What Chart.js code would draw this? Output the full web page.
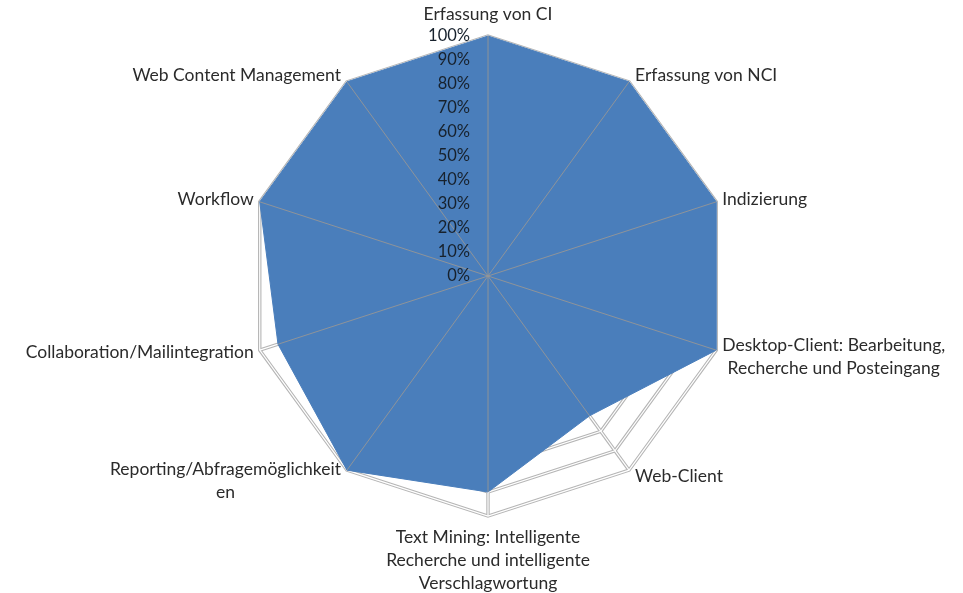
<!DOCTYPE html>
<html>
<head>
<meta charset="utf-8">
<script src="https://cdn.jsdelivr.net/npm/chart.js@4"></script>
<style>
  html, body { margin: 0; padding: 0; background: #fff; }
  #wrap { width: 963px; height: 593px; }
</style>
</head>
<body>
<div id="wrap"><canvas id="myChart" width="963" height="593"></canvas></div>
<script>
// Kategorien (Achsen), im Uhrzeigersinn ab oben
const categories = [
  'Erfassung von CI',
  'Erfassung von NCI',
  'Indizierung',
  ['Desktop-Client: Bearbeitung,', 'Recherche und Posteingang'],
  'Web-Client',
  ['Text Mining: Intelligente', 'Recherche und intelligente', 'Verschlagwortung'],
  ['Reporting/Abfragemöglichkeit', 'en'],
  'Collaboration/Mailintegration',
  'Workflow',
  'Web Content Management'
];
// Erfüllungsgrad in Prozent
const values = [100, 100, 100, 100, 72, 90, 100, 92, 100, 100];
const tickLabels = ['0%', '10%', '20%', '30%', '40%', '50%', '60%', '70%', '80%', '90%', '100%'];

const FONT = '"Lato", "Open Sans", sans-serif';
const TEXT = '#2b2b2b';

const overlay = {
  id: 'overlay',
  beforeDatasetsDraw(chart) {
    const r = chart.scales.r, ctx = chart.ctx;
    ctx.save();
    ctx.strokeStyle = '#ffffff';
    ctx.lineWidth = 1.2;
    // weisser Kern der doppelten Gitterlinien
    r.ticks.forEach(t => {
      if (t.value === 0) return;
      ctx.beginPath();
      for (let i = 0; i < categories.length; i++) {
        const p = r.getPointPositionForValue(i, t.value);
        if (i) ctx.lineTo(p.x, p.y); else ctx.moveTo(p.x, p.y);
      }
      ctx.closePath();
      ctx.stroke();
    });
    for (let i = 0; i < categories.length; i++) {
      const p = r.getPointPositionForValue(i, r.max);
      ctx.beginPath();
      ctx.moveTo(r.xCenter, r.yCenter);
      ctx.lineTo(p.x, p.y);
      ctx.stroke();
    }
    ctx.restore();
  },
  afterDatasetsDraw(chart) {
    const r = chart.scales.r, ctx = chart.ctx;
    const n = categories.length;
    ctx.save();
    // Speichen ueber der Flaeche
    ctx.strokeStyle = 'rgba(150,150,150,0.9)';
    ctx.lineWidth = 1;
    for (let i = 0; i < n; i++) {
      const p = r.getPointPositionForValue(i, values[i]);
      ctx.beginPath();
      ctx.moveTo(r.xCenter, r.yCenter);
      ctx.lineTo(p.x, p.y);
      ctx.stroke();
    }
    // Achsenbeschriftung links der oberen Speiche
    ctx.font = '16.5px ' + FONT;
    ctx.fillStyle = '#17212c';
    ctx.textAlign = 'right';
    ctx.textBaseline = 'middle';
    r.ticks.forEach((t, k) => {
      const d = r.getDistanceFromCenterForValue(t.value);
      ctx.fillText(tickLabels[k], r.xCenter - 18, r.yCenter - d);
    });
    // Kategorienbeschriftung
    ctx.font = '17.5px ' + FONT;
    ctx.fillStyle = TEXT;
    ctx.textAlign = 'center';
    const lh = 23;
    for (let i = 0; i < n; i++) {
      const lines = Array.isArray(categories[i]) ? categories[i] : [categories[i]];
      const w = Math.max(...lines.map(s => ctx.measureText(s).width));
      const a = r.getIndexAngle(i);
      const p = r.getPointPositionForValue(i, r.max);
      const deg = Math.round(a * 180 / Math.PI) % 360;
      let cx, cy;
      const hBlock = lines.length * lh;
      if (deg === 0) {
        cx = p.x; cy = p.y - 10 - hBlock / 2;
      } else if (deg === 180) {
        cx = p.x; cy = p.y + 10 + hBlock / 2;
      } else {
        cx = deg < 180 ? p.x + 6 + w / 2 : p.x - 6 - w / 2;
        cy = p.y - 8 * Math.cos(a) + (lines.length > 1 ? 4 : 0);
      }
      lines.forEach((s, j) => {
        ctx.fillText(s, cx, cy - hBlock / 2 + lh * (j + 0.5));
      });
    }
    ctx.restore();
  }
};

const ctx = document.getElementById('myChart').getContext('2d');
const myChart = new Chart(ctx, {
  type: 'radar',
  data: {
    labels: categories,
    datasets: [{
      data: values,
      backgroundColor: '#4a7ebb',
      borderColor: '#4a7ebb',
      borderWidth: 1,
      pointRadius: 0,
      fill: true
    }]
  },
  options: {
    responsive: false,
    animation: false,
    layout: { padding: { top: 36, bottom: 77, left: 13, right: 0 } },
    plugins: { legend: { display: false }, tooltip: { enabled: false } },
    scales: {
      r: {
        min: 0,
        max: 100,
        ticks: { stepSize: 10, display: false },
        grid: { color: '#b5b5b5', lineWidth: 3.4 },
        angleLines: { color: '#b5b5b5', lineWidth: 3.4 },
        pointLabels: { display: false }
      }
    }
  },
  plugins: [overlay]
});
</script>
</body>
</html>
